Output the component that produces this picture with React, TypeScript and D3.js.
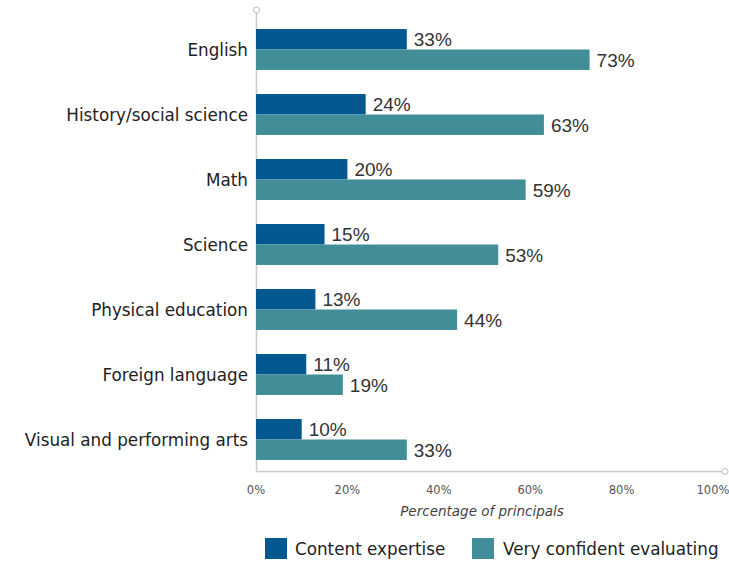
import React from "react";
import * as d3 from "d3";

const categories = [
  "English",
  "History/social science",
  "Math",
  "Science",
  "Physical education",
  "Foreign language",
  "Visual and performing arts",
];
const contentExpertise = [33, 24, 20, 15, 13, 11, 10];
const veryConfident = [73, 63, 59, 53, 44, 19, 33];
const seriesNames = ["Content expertise", "Very confident evaluating"];
const xTicks = [0, 20, 40, 60, 80, 100];

const colors = ["#02588F", "#428E98"];
const font = "'DejaVu Sans', sans-serif";
const numFont = "'Liberation Sans', Arial, sans-serif";

export default function App() {
  const W = 729;
  const H = 562;
  const x = d3.scaleLinear().domain([0, 100]).range([256, 713]);
  const y = d3.scaleBand().domain(categories).range([17, 472]).paddingInner(0.37).paddingOuter(0.185);
  const sub = d3.scaleBand().domain(seriesNames).range([0, y.bandwidth()]);
  const series = [contentExpertise, veryConfident];

  return (
    <svg width={W} height={H} style={{ position: "absolute", left: 0, top: 0 }}>
      <rect width={W} height={H} fill="#fff" />
      {/* axes */}
      <line x1={256.5} x2={256.5} y1={13} y2={471.5} stroke="#ccc" strokeWidth={1.5} />
      <line x1={256} x2={722} y1={471.5} y2={471.5} stroke="#ccc" strokeWidth={1.5} />
      <circle cx={256.5} cy={10} r={3} fill="#fff" stroke="#bbb" strokeWidth={1} />
      <circle cx={725} cy={471.5} r={3} fill="#fff" stroke="#bbb" strokeWidth={1} />

      {categories.map((c, i) => (
        <g key={c}>
          <text
            x={248}
            y={(y(c) as number) + y.bandwidth() / 2}
            textAnchor="end"
            dominantBaseline="central"
            fontFamily={font}
            fontSize={16.8}
            fill="#222"
          >
            {c}
          </text>
          {series.map((vals, s) => {
            const y0 = (y(c) as number) + (sub(seriesNames[s]) as number);
            return (
              <g key={s}>
                <rect x={x(0)} y={y0} width={x(vals[i]) - x(0)} height={sub.bandwidth()} fill={colors[s]} />
                <text
                  x={x(vals[i]) + 7}
                  y={y0 + sub.bandwidth() / 2 + 7}
                  fontFamily={numFont}
                  fontSize={19}
                  fill="#333"
                >
                  {vals[i]}%
                </text>
              </g>
            );
          })}
        </g>
      ))}

      {xTicks.map((t) => (
        <text
          key={t}
          x={x(t)}
          y={490}
          textAnchor="middle"
          dominantBaseline="central"
          fontFamily={font}
          fontSize={11.5}
          fill="#555"
        >
          {t}%
        </text>
      ))}
      <text
        x={482}
        y={511}
        textAnchor="middle"
        dominantBaseline="central"
        fontFamily={font}
        fontSize={13.5}
        fontStyle="italic"
        fill="#444"
      >
        Percentage of principals
      </text>

      {/* legend */}
      <rect x={265} y={538} width={22} height={21} fill={colors[0]} />
      <text x={295} y={549} dominantBaseline="central" fontFamily={font} fontSize={16.8} fill="#222">
        {seriesNames[0]}
      </text>
      <rect x={472} y={538} width={22} height={21} fill={colors[1]} />
      <text x={503} y={549} dominantBaseline="central" fontFamily={font} fontSize={16.8} fill="#222">
        {seriesNames[1]}
      </text>
    </svg>
  );
}
